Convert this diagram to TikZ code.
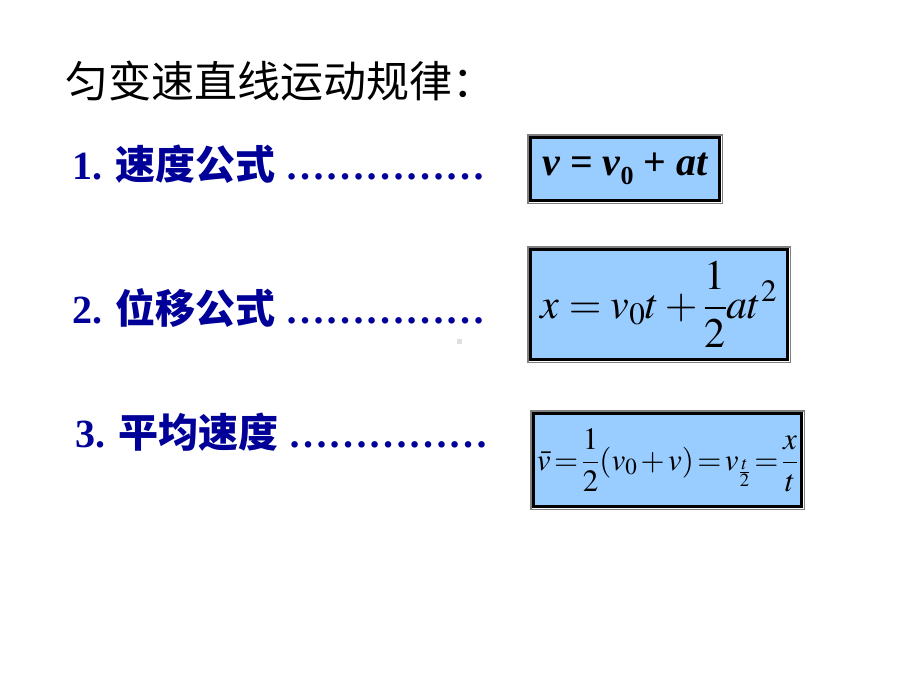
\documentclass[tikz,border=0pt]{standalone}
\usepackage{mathptmx}
\usepackage{fontspec}
\setmainfont{Liberation Serif}
\newfontfamily\cjk{Noto Sans CJK SC}
\usetikzlibrary{fit}
\definecolor{navy}{RGB}{0,0,153}
\definecolor{boxblue}{RGB}{153,204,255}
\begin{document}
\begin{tikzpicture}
    [ x=1pt, y=-1pt
    , every node/.style={inner sep=0pt, outer sep=0pt}
    , row/.style={anchor=base west, text=navy, font=\fontsize{40}{48}\selectfont\bfseries}
    , fbox/.style={draw=black, line width=3pt, fill=boxblue}
    , grayframe/.style={draw=gray, line width=1.5pt, inner sep=2.75pt}
    ]
\fill[white] (0,0) rectangle (920,690);
\useasboundingbox (0,0) rectangle (920,690);
\node[anchor=base west, font=\fontsize{43}{50}\selectfont\cjk] (title) at (65,98) {匀变速直线运动规律：};
\node[row] (speed) at (72,179) {1. {\cjk 速度公式} ……………};
\node[row] (shift) at (72,323) {2. {\cjk 位移公式} ……………};
\node[row] (mean) at (75,447) {3. {\cjk 平均速度} ……………};
\fill[gray!25] (457,339) rectangle (462,344);
\node[fbox, minimum width=189pt, minimum height=63pt] (vbox) at (625,169)
    {\fontsize{40}{48}\selectfont\bfseries\itshape v {\upshape=} v\raisebox{-9pt}{\fontsize{26}{30}\selectfont\upshape 0} {\upshape+} at};
\node[grayframe, fit=(vbox)] (vframe) {};
\node[fbox, minimum width=257pt, minimum height=110pt] (xbox) at (659,304.5)
    {\fontsize{42}{50}\selectfont $\displaystyle x = v_0t + \frac{1}{2}at^2$};
\node[grayframe, fit=(xbox)] (xframe) {};
\node[fbox, minimum width=268pt, minimum height=93pt] (mbox) at (667.5,460)
    {\fontsize{31}{38}\selectfont \thickmuskip=2mu \medmuskip=2mu
     $\displaystyle \bar{v}=\frac{1}{2}(v_0+v)=v_{\frac{t}{2}}=\frac{x}{t}$};
\node[grayframe, fit=(mbox)] (mframe) {};
\end{tikzpicture}
\end{document}
